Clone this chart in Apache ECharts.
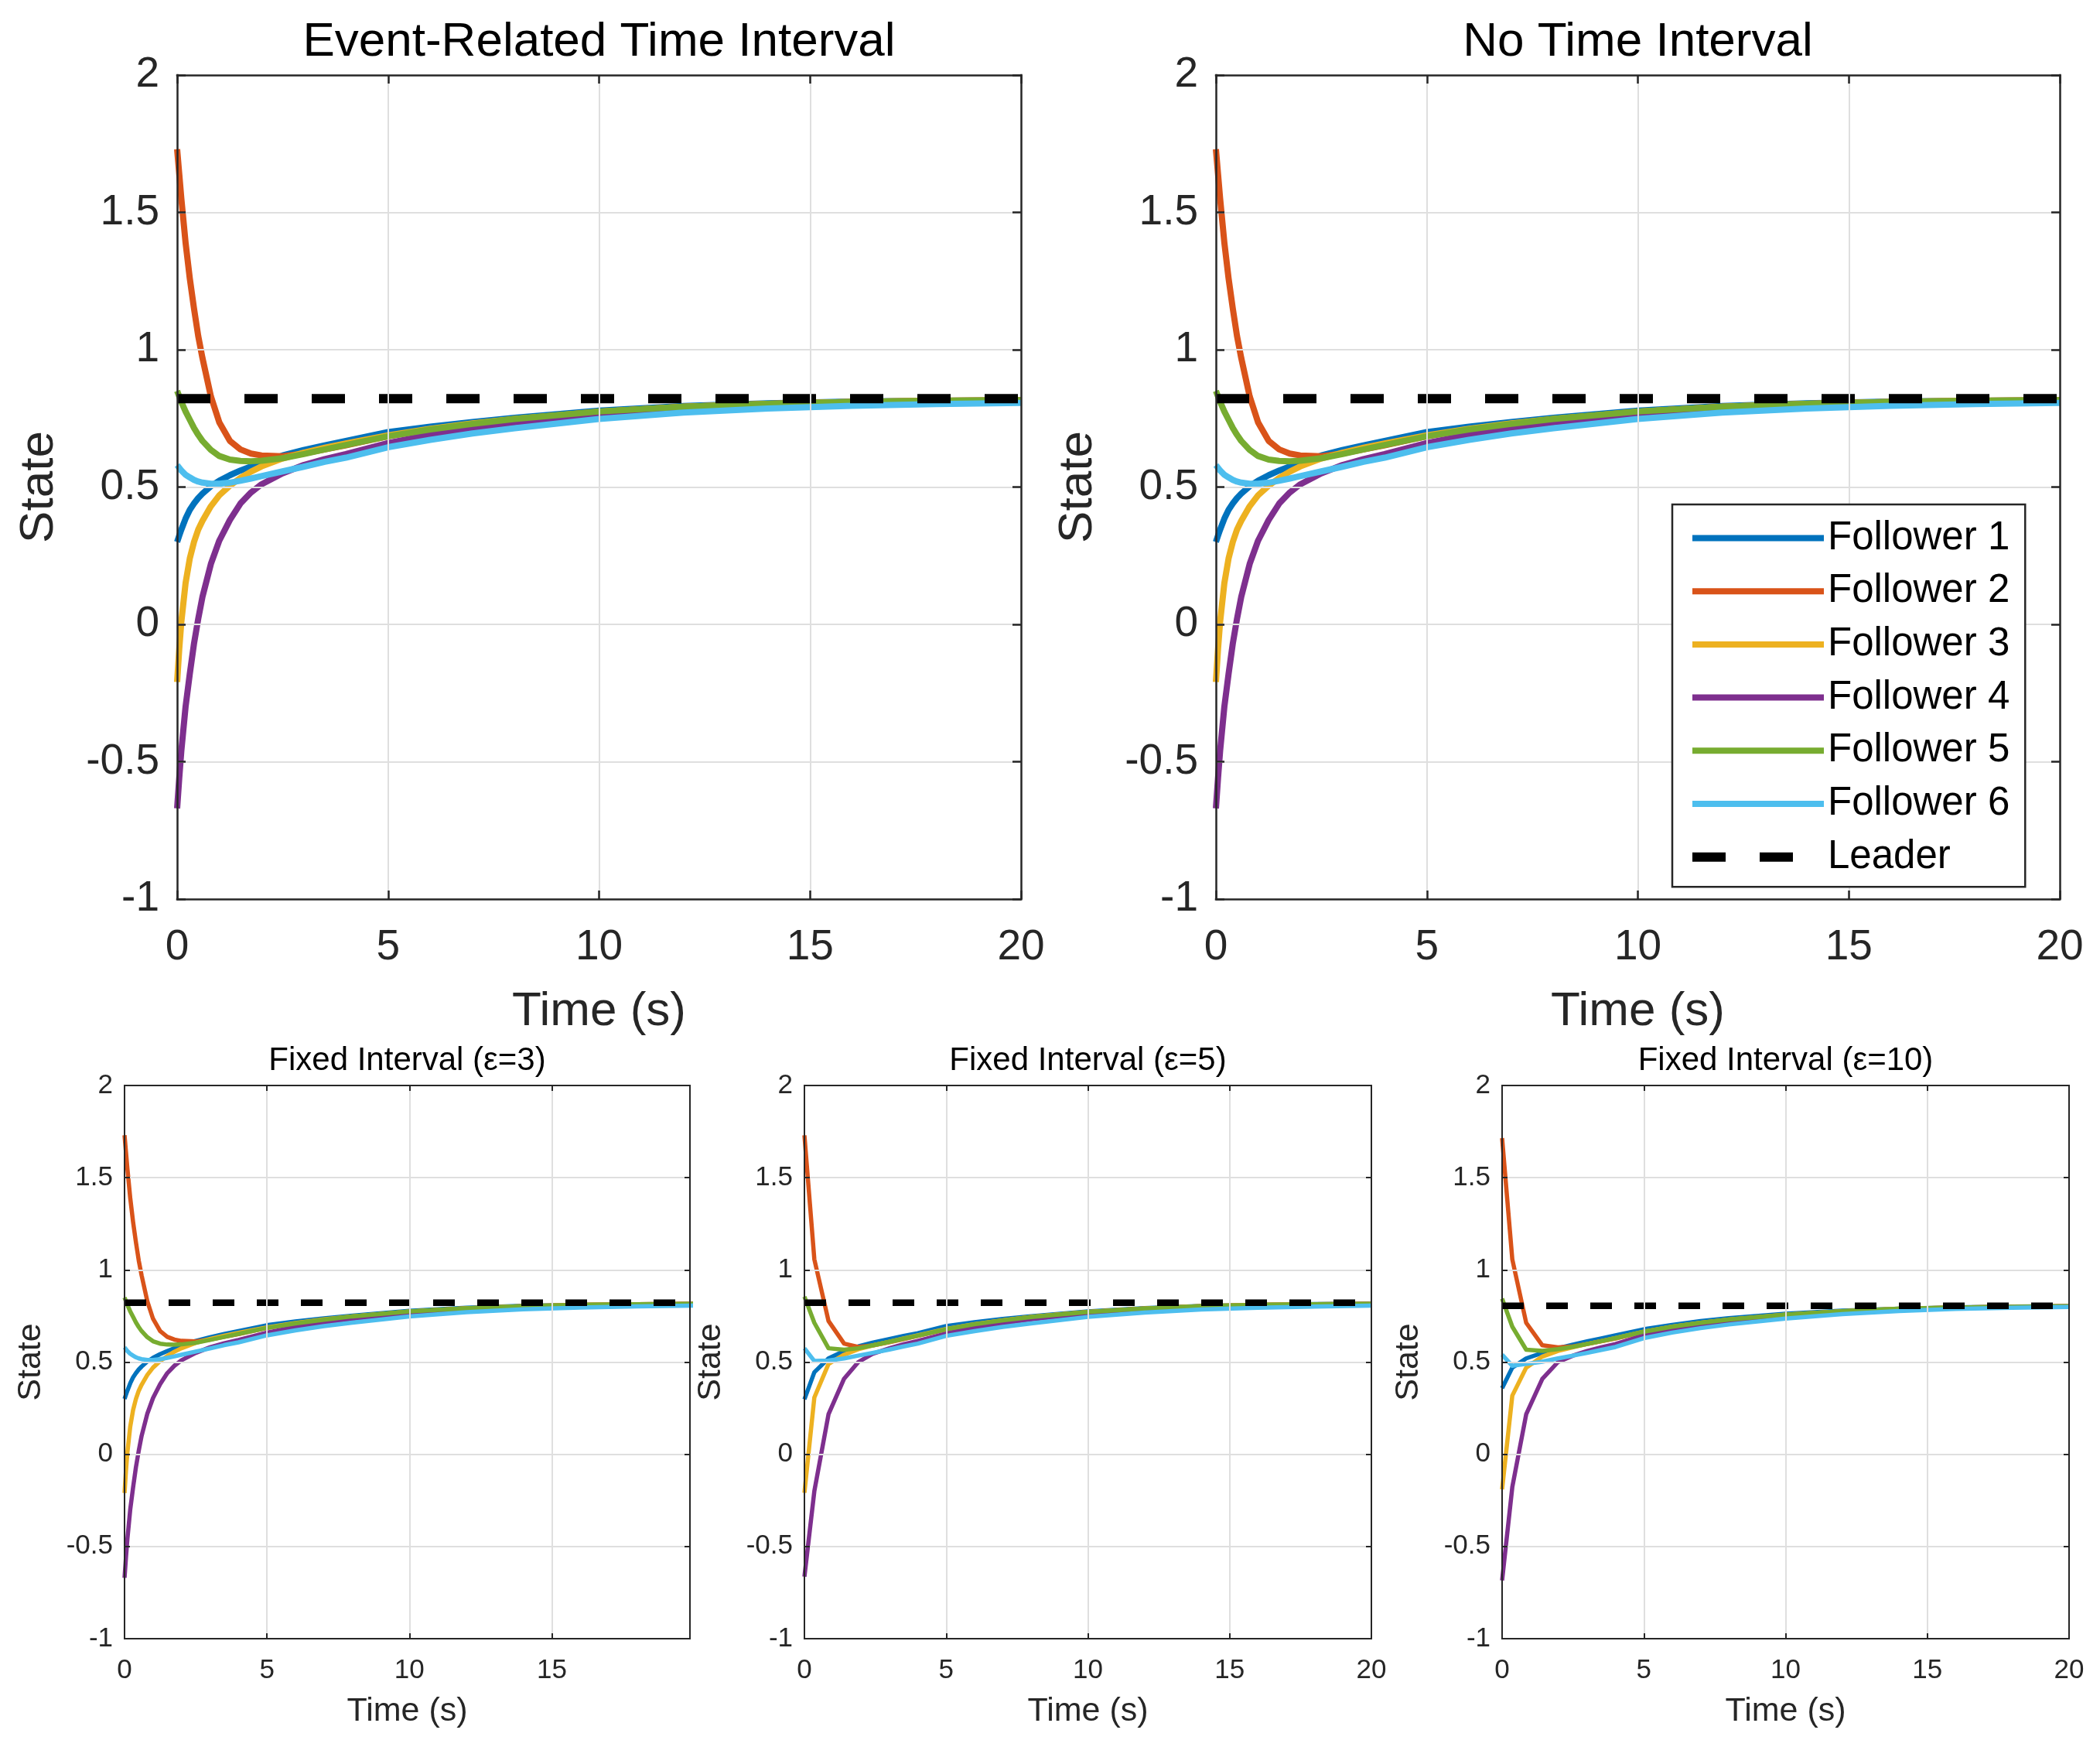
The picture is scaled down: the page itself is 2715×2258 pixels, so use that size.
<!DOCTYPE html>
<html>
<head>
<meta charset="utf-8">
<script src="https://cdn.jsdelivr.net/npm/echarts@6/dist/echarts.min.js"></script>
<style>
html,body{margin:0;padding:0;background:#fff;}
#c{width:2715px;height:2258px;}
</style>
</head>
<body>
<div id="c"></div>
<script>
// ---------- DATA ----------
const seriesNames = ['Follower 1','Follower 2','Follower 3','Follower 4','Follower 5','Follower 6','Leader'];
const seriesColors = ['#0072BD','#D95319','#EDB120','#7E2F8E','#77AC30','#4DBEEE','#000000'];

const xTicks = [0, 5, 10, 15, 20];
const yTicks = [-1, -0.5, 0, 0.5, 1, 1.5, 2];

// continuous-like trajectories (Event-Related / No Time Interval / eps=3)
const tCont = [0,0.05,0.1,0.2,0.3,0.4,0.5,0.6,0.8,1.0,1.25,1.5,1.75,2.0,2.5,3.0,3.5,4,5,6,7,8,10,12,14,16,18,20];
const f1Cont = [0.30,0.323,0.345,0.385,0.417,0.44,0.46,0.476,0.503,0.523,0.543,0.56,0.575,0.588,0.615,0.635,0.652,0.668,0.70,0.72,0.737,0.752,0.778,0.795,0.805,0.811,0.814,0.816];
const f2Cont = [1.73,1.64,1.55,1.39,1.26,1.15,1.05,0.97,0.83,0.735,0.668,0.637,0.622,0.615,0.612,0.622,0.637,0.652,0.685,0.71,0.73,0.747,0.774,0.792,0.803,0.81,0.814,0.816];
const f3Cont = [-0.21,-0.09,0.01,0.15,0.24,0.30,0.345,0.377,0.43,0.47,0.505,0.533,0.556,0.575,0.604,0.625,0.643,0.659,0.688,0.712,0.732,0.748,0.774,0.792,0.803,0.81,0.814,0.816];
const f4Cont = [-0.67,-0.56,-0.46,-0.30,-0.18,-0.07,0.02,0.10,0.22,0.305,0.38,0.44,0.48,0.51,0.55,0.58,0.602,0.62,0.66,0.69,0.715,0.735,0.765,0.786,0.80,0.808,0.812,0.815];
const f5Cont = [0.85,0.83,0.81,0.775,0.745,0.715,0.69,0.668,0.635,0.613,0.60,0.595,0.594,0.596,0.605,0.62,0.637,0.653,0.685,0.71,0.73,0.748,0.775,0.792,0.803,0.81,0.814,0.816];
const f6Cont = [0.58,0.57,0.56,0.545,0.535,0.526,0.52,0.516,0.512,0.512,0.516,0.523,0.531,0.54,0.557,0.574,0.592,0.607,0.645,0.672,0.695,0.714,0.748,0.771,0.786,0.796,0.802,0.806];
const tLeader = [0, 20];
const leaderCont = [0.822, 0.822];

// Fixed interval eps=5 (sampled)
const tE5 = [0,0.35,0.85,1.4,1.9,2.4,3,3.5,4,5,6,7,8,10,12,14,16,18,20];
const f1E5 = [0.298,0.445,0.52,0.56,0.585,0.605,0.625,0.642,0.657,0.695,0.716,0.734,0.749,0.775,0.793,0.804,0.811,0.815,0.817];
const f2E5 = [1.73,1.057,0.723,0.60,0.582,0.59,0.608,0.625,0.642,0.677,0.704,0.726,0.744,0.772,0.791,0.803,0.81,0.814,0.816];
const f3E5 = [-0.209,0.308,0.49,0.54,0.57,0.59,0.61,0.628,0.645,0.68,0.706,0.727,0.745,0.772,0.791,0.803,0.81,0.814,0.816];
const f4E5 = [-0.664,-0.2,0.217,0.41,0.50,0.545,0.575,0.597,0.615,0.655,0.686,0.711,0.732,0.763,0.785,0.799,0.807,0.812,0.815];
const f5E5 = [0.855,0.713,0.575,0.567,0.575,0.59,0.61,0.627,0.643,0.678,0.705,0.726,0.744,0.772,0.791,0.803,0.81,0.814,0.816];
const f6E5 = [0.575,0.506,0.508,0.52,0.535,0.55,0.568,0.585,0.6,0.642,0.668,0.691,0.71,0.745,0.769,0.785,0.795,0.801,0.806];
const leaderE5 = [0.822, 0.822];

// Fixed interval eps=10 (sampled)
const tE10 = [0,0.36,0.85,1.42,1.97,2.5,3,3.5,4,5,6,7,8,10,12,14,16,18,20];
const f1E10 = [0.358,0.47,0.52,0.55,0.575,0.595,0.612,0.628,0.645,0.678,0.702,0.722,0.738,0.762,0.779,0.79,0.797,0.801,0.803];
const f2E10 = [1.715,1.057,0.713,0.591,0.58,0.585,0.598,0.613,0.628,0.664,0.691,0.712,0.73,0.756,0.775,0.788,0.796,0.8,0.803];
const f3E10 = [-0.19,0.318,0.47,0.53,0.56,0.58,0.598,0.614,0.63,0.665,0.692,0.713,0.731,0.757,0.776,0.789,0.796,0.8,0.803];
const f4E10 = [-0.684,-0.178,0.217,0.409,0.50,0.535,0.56,0.58,0.598,0.645,0.676,0.7,0.719,0.748,0.77,0.785,0.794,0.799,0.802];
const f5E10 = [0.844,0.692,0.567,0.561,0.57,0.583,0.598,0.614,0.63,0.665,0.692,0.713,0.731,0.757,0.776,0.789,0.796,0.8,0.803];
const f6E10 = [0.54,0.48,0.49,0.502,0.52,0.535,0.55,0.566,0.582,0.63,0.66,0.684,0.704,0.736,0.76,0.777,0.788,0.795,0.799];
const leaderE10 = [0.805, 0.805];

// ---------- LAYOUT ----------
const FONT = 'Liberation Sans, Arial, Helvetica, sans-serif';
const TXT = '#262626';
const big = {tick:55, label:62, title:62, lw:8, llw:12, dash:[43,44], aw:2.5, tl:11, xm:35, ym:23, xg:115, yg:147};
const small = {tick:35, label:43, title:42, lw:5.5, llw:8.5, dash:[28,29], aw:2, tl:7, xm:24, ym:15, xg:73, yg:99};

const contSet = {t:tCont, f:[f1Cont,f2Cont,f3Cont,f4Cont,f5Cont,f6Cont], l:leaderCont};
const panels = [
  {left:229, top:97, width:1091, height:1065, title:'Event-Related Time Interval', titleY:55, xMax:20, s:big, d:contSet},
  {left:1572, top:97, width:1091, height:1065, title:'No Time Interval', titleY:55, xMax:20, s:big, d:contSet},
  {left:161, top:1403, width:731, height:715, title:'Fixed Interval (\u03b5=3)', titleY:1371, xMax:19.85, s:small, d:contSet},
  {left:1040, top:1403, width:733, height:715, title:'Fixed Interval (\u03b5=5)', titleY:1371, xMax:20, s:small,
    d:{t:tE5, f:[f1E5,f2E5,f3E5,f4E5,f5E5,f6E5], l:leaderE5}},
  {left:1942, top:1403, width:733, height:715, title:'Fixed Interval (\u03b5=10)', titleY:1371, xMax:20, s:small,
    d:{t:tE10, f:[f1E10,f2E10,f3E10,f4E10,f5E10,f6E10], l:leaderE10}}
];

const grids = [], xAxes = [], yAxes = [], series = [], titles = [];
panels.forEach((p, i) => {
  const s = p.s;
  grids.push({left:p.left, top:p.top, width:p.width, height:p.height, containLabel:false,
    outerBoundsMode:'none', show:false});
  titles.push({text:p.title, left:p.left + p.width/2, top:p.titleY, textAlign:'center', textVerticalAlign:'middle',
    padding:0, textStyle:{fontSize:s.title, fontWeight:'normal', fontFamily:FONT, color:'#000'}});
  const tick = {show:true, inside:true, length:s.tl, lineStyle:{color:TXT, width:s.aw}};
  const aLine = {show:true, onZero:false, lineStyle:{color:TXT, width:s.aw, cap:'square'}};
  const split = {show:true, showMinLine:false, showMaxLine:false, lineStyle:{color:'#dfdfdf', width:2}};
  xAxes.push({gridIndex:i, type:'value', position:'bottom', min:xTicks[0], max:p.xMax, interval:xTicks[1]-xTicks[0],
    axisLine:aLine, axisTick:tick, z:5,
    axisLabel:{fontSize:s.tick, fontFamily:FONT, color:TXT, margin:s.xm, showMaxLabel:p.xMax === xTicks[xTicks.length-1], showMinLabel:true},
    splitLine:split,
    name:'Time (s)', nameLocation:'middle', nameGap:s.xg, nameMoveOverlap:false,
    nameTextStyle:{fontSize:s.label, fontFamily:FONT, color:TXT}});
  xAxes.push({gridIndex:i, type:'value', position:'top', min:xTicks[0], max:p.xMax, interval:xTicks[1]-xTicks[0],
    axisLine:aLine, axisTick:tick, axisLabel:{show:false}, splitLine:{show:false}, z:5});
  yAxes.push({gridIndex:i, type:'value', position:'left', min:yTicks[0], max:yTicks[yTicks.length-1], interval:yTicks[1]-yTicks[0],
    axisLine:aLine, axisTick:tick, z:5,
    axisLabel:{fontSize:s.tick, fontFamily:FONT, color:TXT, margin:s.ym, showMaxLabel:true, showMinLabel:true},
    splitLine:split,
    name:'State', nameLocation:'middle', nameGap:s.yg, nameMoveOverlap:false,
    nameTextStyle:{fontSize:s.label, fontFamily:FONT, color:TXT}});
  yAxes.push({gridIndex:i, type:'value', position:'right', min:yTicks[0], max:yTicks[yTicks.length-1], interval:yTicks[1]-yTicks[0],
    axisLine:aLine, axisTick:tick, axisLabel:{show:false}, splitLine:{show:false}, z:5});

  p.d.f.forEach((vals, k) => {
    series.push({type:'line', name:seriesNames[k], xAxisIndex:2*i, yAxisIndex:2*i,
      data:p.d.t.map((t, j) => [t, vals[j]]), symbol:'none', showSymbol:false,
      smooth:false, clip:true, animation:false,
      lineStyle:{color:seriesColors[k], width:s.lw, join:'round'}, itemStyle:{color:seriesColors[k]}, z:2});
  });
  series.push({type:'line', name:seriesNames[6], xAxisIndex:2*i, yAxisIndex:2*i,
    data:tLeader.map((t, j) => [t, p.d.l[j]]), symbol:'none', showSymbol:false, clip:true, animation:false,
    lineStyle:{color:'#000', width:s.llw, type:s.dash, cap:'butt'}, itemStyle:{color:'#000'}, z:3});
});

const option = {
  backgroundColor:'#fff',
  animation:false,
  title:titles,
  grid:grids, xAxis:xAxes, yAxis:yAxes, series:series,
  legend:{data:seriesNames, orient:'vertical', left:2162, top:652, padding:[18,20,13,20],
    itemGap:17.7, itemWidth:170, itemHeight:1, itemTextGap:14,
    backgroundColor:'#fff', borderColor:TXT, borderWidth:2.5, borderRadius:0,
    selectedMode:false,
    itemStyle:{opacity:0},
    textStyle:{fontSize:51, fontFamily:FONT, color:'#000', lineHeight:50},
    lineStyle:{width:'inherit', type:'inherit'}, z:10}
};

const chart = echarts.init(document.getElementById('c'), null, {renderer:'canvas', width:2715, height:2258});
chart.setOption(option);
</script>
</body>
</html>
